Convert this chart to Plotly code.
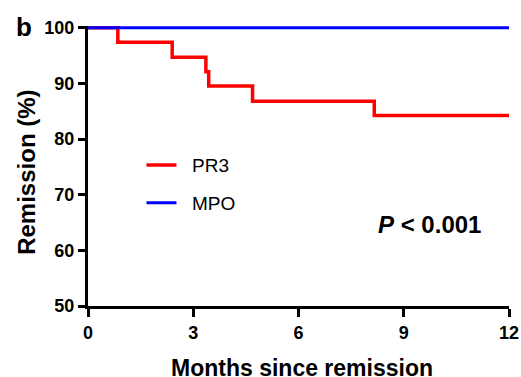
import plotly.graph_objects as go

# Data (Kaplan-Meier style step curves)
pr3_months = [0, 0.85, 2.4, 3.36, 3.44, 4.69, 8.16, 12]
pr3_remission = [100, 97.4, 94.7, 92.1, 89.5, 86.8, 84.2, 84.2]
mpo_months = [0, 12]
mpo_remission = [100, 100]

x_ticks = [0, 3, 6, 9, 12]
y_ticks = [50, 60, 70, 80, 90, 100]

x_title = "Months since remission"
y_title = "Remission (%)"

FONT = "Arial, 'Liberation Sans', sans-serif"

fig = go.Figure()
fig.add_trace(go.Scatter(
    x=pr3_months, y=pr3_remission, mode="lines", name="\u00a0\u00a0PR3",
    line=dict(color="#ff0000", width=3.5, shape="hv"),
    legendgroup="a"))
fig.add_trace(go.Scatter(
    x=mpo_months, y=mpo_remission, mode="lines", name="\u00a0\u00a0MPO",
    line=dict(color="#0000ff", width=3, shape="hv"),
    legendgroup="b"))

fig.update_layout(
    width=521, height=377,
    margin=dict(l=88, r=12, t=26, b=71, autoexpand=False),
    plot_bgcolor="white", paper_bgcolor="white",
    font=dict(family=FONT, color="black"),
    showlegend=True,
    legend=dict(x=0.127, y=0.571, xanchor="left", yanchor="top",
                font=dict(size=19, family=FONT, color="black"),
                bgcolor="rgba(0,0,0,0)", tracegroupgap=10, itemwidth=30),
    xaxis=dict(range=[0, 12], tickvals=x_ticks, ticktext=[str(v) for v in x_ticks],
               automargin=False,
               showgrid=False, zeroline=False, showline=True, linecolor="black",
               linewidth=3, ticks="outside", ticklen=8, tickwidth=2.5,
               tickcolor="black",
               tickfont=dict(size=18, family=FONT, color="black", weight="bold")),
    yaxis=dict(range=[50, 100.3], tickvals=y_ticks, ticktext=[str(v) for v in y_ticks],
               automargin=False,
               showgrid=False, zeroline=False, showline=True, linecolor="black",
               linewidth=3, ticks="outside", ticklen=7, tickwidth=2.5,
               tickcolor="black",
               tickfont=dict(size=18, family=FONT, color="black", weight="bold")),
    annotations=[
        dict(text="<b>b</b>", xref="paper", yref="paper", x=-0.175, y=0.997,
             xanchor="left", yanchor="middle", showarrow=False,
             font=dict(size=26, family=FONT, color="black")),
        dict(text="<b><i>P</i> &lt; 0.001</b>", xref="paper", yref="paper",
             x=0.81, y=0.29, xanchor="center", yanchor="middle", showarrow=False,
             font=dict(size=24, family=FONT, color="black")),
        dict(text=f"<b>{x_title}</b>", xref="paper", yref="paper",
             x=0.5076, y=-0.221, xanchor="center", yanchor="middle", showarrow=False,
             font=dict(size=23, family=FONT, color="black")),
        dict(text=f"<b>{y_title}</b>", xref="paper", yref="paper",
             x=-0.145, y=0.479, xanchor="center", yanchor="middle", showarrow=False,
             textangle=-90, font=dict(size=24, family=FONT, color="black")),
    ],
)

# Remove the browser's default 8px body margin so the figure sits at the page origin.
fig.write_html("out.html",
               config={"displayModeBar": False},
               post_script="document.body.style.margin='0';document.body.style.overflow='hidden';")
